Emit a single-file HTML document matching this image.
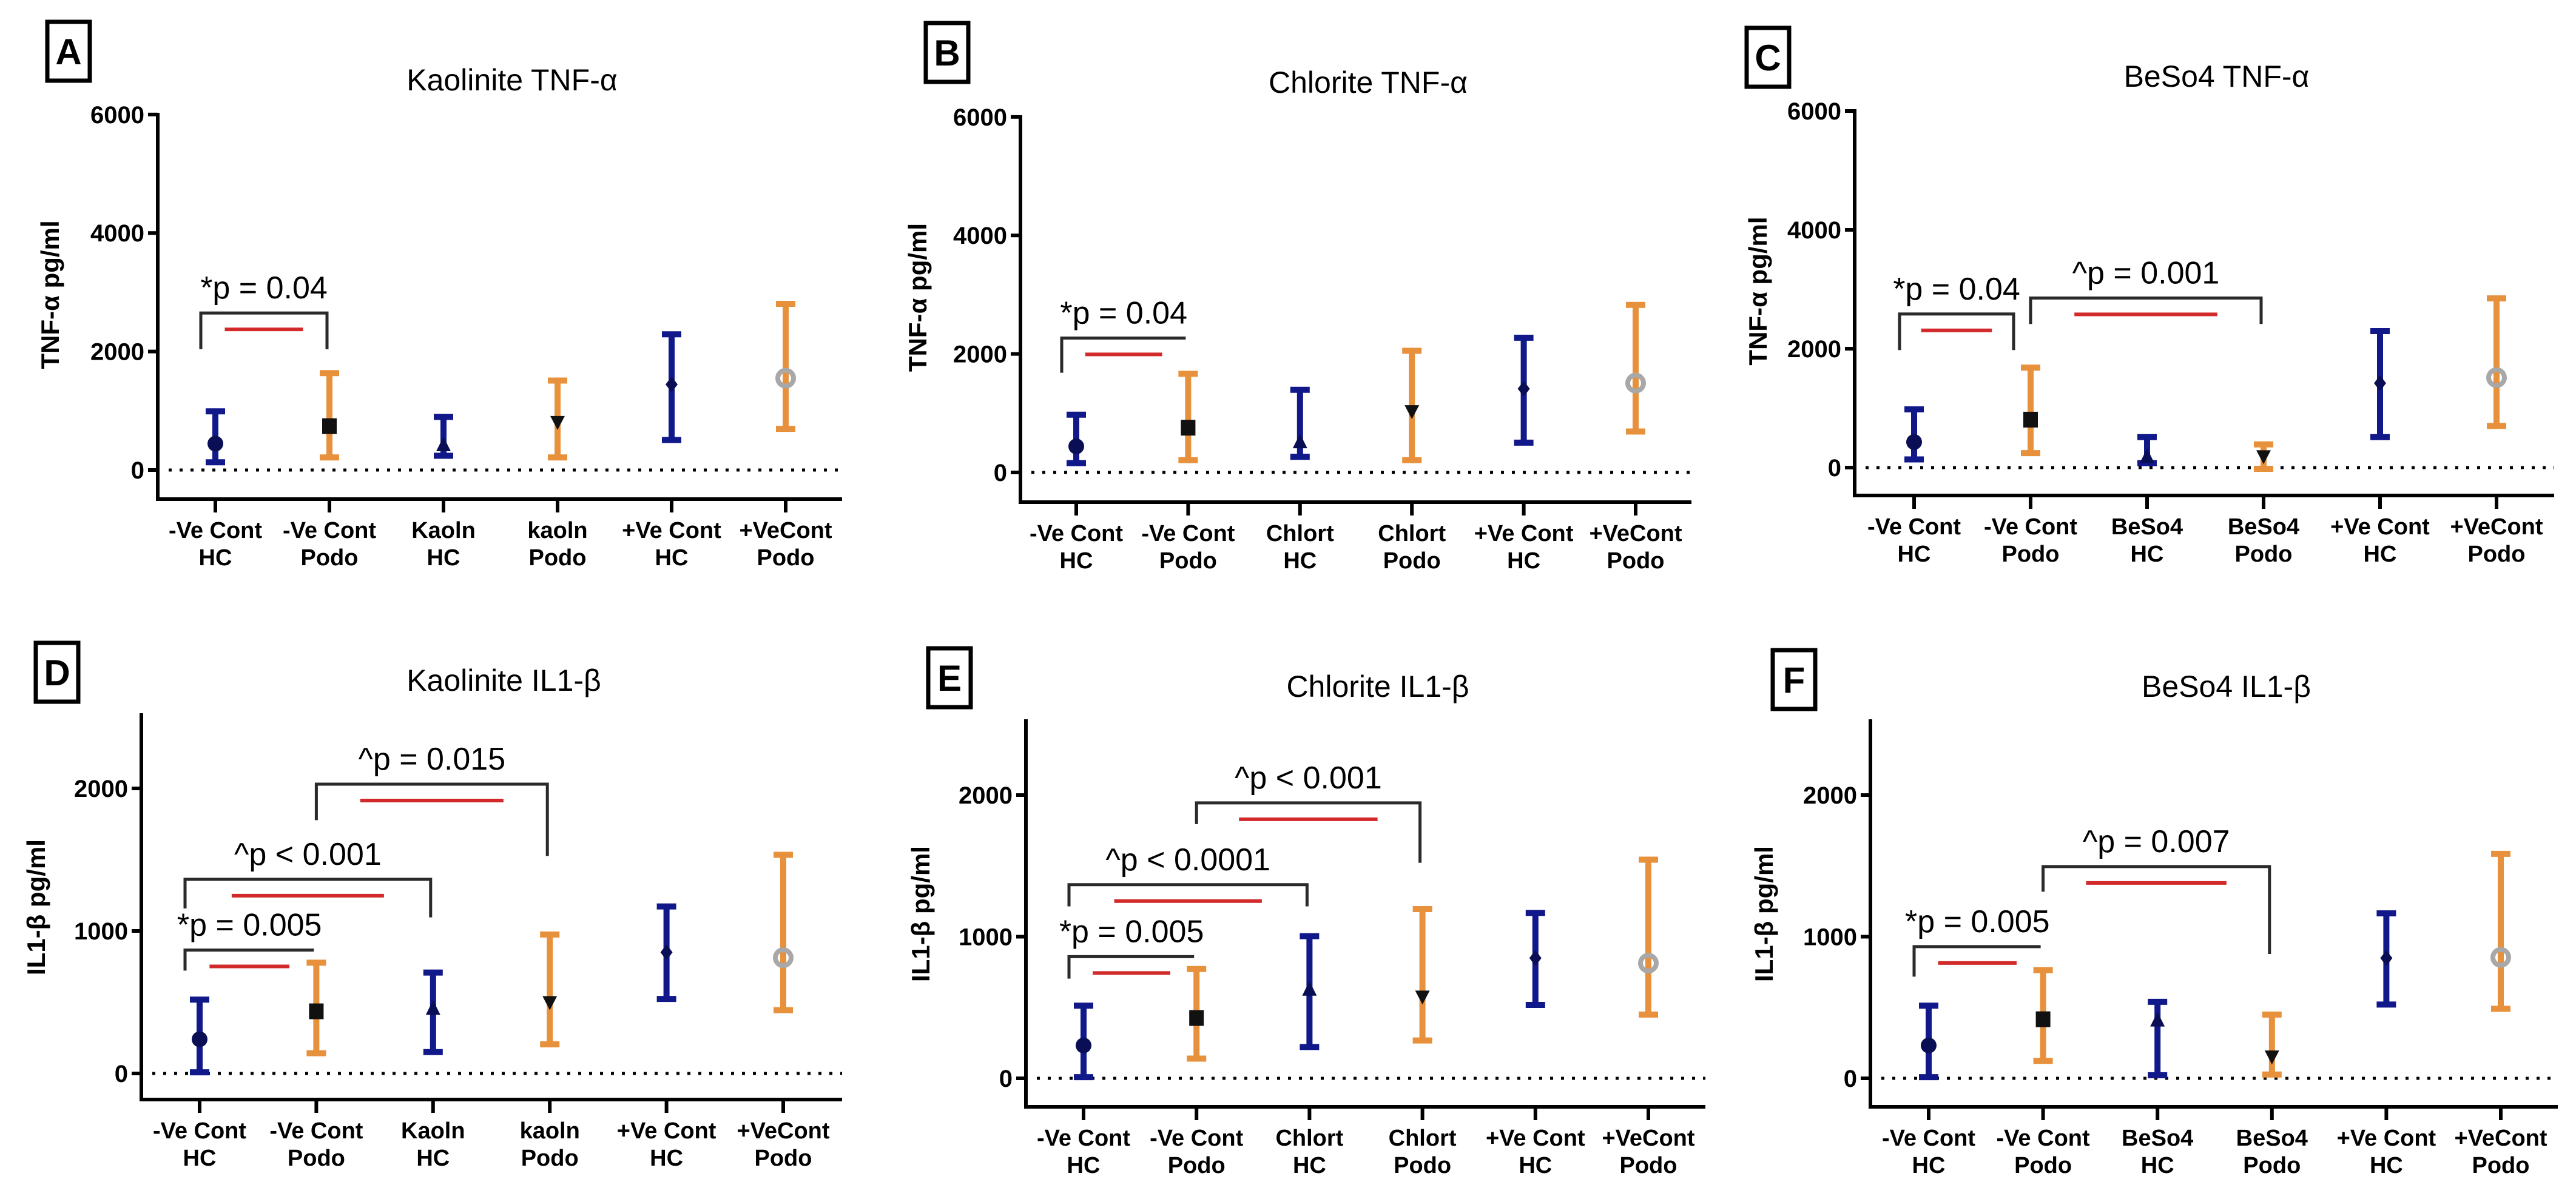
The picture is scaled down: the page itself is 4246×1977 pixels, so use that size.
<!DOCTYPE html>
<html><head><meta charset="utf-8">
<style>
html,body{margin:0;padding:0;background:#fff;}
svg{display:block;}
text{font-family:"Liberation Sans",Arial,sans-serif;}
</style></head>
<body>
<svg id="fig" width="4246" height="1977" viewBox="0 0 4246 1977" xmlns="http://www.w3.org/2000/svg"></svg>
<script>
// ---------- DATA ----------
const catsKaolin = ["-Ve Cont|HC","-Ve Cont|Podo","Kaoln|HC","kaoln|Podo","+Ve Cont|HC","+VeCont|Podo"];
const catsChlor  = ["-Ve Cont|HC","-Ve Cont|Podo","Chlort|HC","Chlort|Podo","+Ve Cont|HC","+VeCont|Podo"];
const catsBeso   = ["-Ve Cont|HC","-Ve Cont|Podo","BeSo4|HC","BeSo4|Podo","+Ve Cont|HC","+VeCont|Podo"];
const ticksTNF = [0,2000,4000,6000];
const ticksIL = [0,1000,2000];

const meanA = [445,740,410,820,1445,1550];
const lowA  = [130,213,240,213,507,695];
const highA = [990,1635,895,1510,2290,2805];

const meanB = [440,755,500,1043,1413,1508];
const lowB  = [157,207,264,207,503,691];
const highB = [975,1665,1395,2054,2274,2827];

const meanC = [430,807,170,200,1420,1514];
const lowC  = [138,244,75,-20,513,701];
const highC = [980,1683,513,390,2296,2847];

const meanD = [240,436,450,504,850,812];
const lowD  = [8,142,150,204,523,444];
const highD = [518,777,708,975,1172,1534];

const meanE = [232,426,622,581,849,813];
const lowE  = [8,139,221,267,518,450];
const highE = [513,772,1004,1195,1168,1544];

const meanF = [232,417,404,158,849,854];
const lowF  = [8,123,22,27,521,491];
const highF = [513,764,540,450,1165,1585];

// brackets: [fromCat, toCat, topValue, leftLegEnd, rightLegEnd, label]
const bracketsA = [[0,1,2650,2040,2040,"*p = 0.04"]];
const bracketsB = [[0,1,2268,1683,2268,"*p = 0.04"]];
const bracketsC = [[0,1,2584,1977,1977,"*p = 0.04"],[1,3,2853,2416,2416,"^p =  0.001"]];
const bracketsD = [[0,1,866,722,866,"*p = 0.005"],[0,2,1362,1158,1095,"^p < 0.001"],[1,3,2030,1777,1526,"^p = 0.015"]];
const bracketsE = [[0,1,859,704,859,"*p = 0.005"],[0,2,1367,1214,1214,"^p <  0.0001"],[1,3,1945,1795,1522,"^p <  0.001"]];
const bracketsF = [[0,1,930,718,930,"*p = 0.005"],[1,3,1495,1318,878,"^p = 0.007"]];

// ---------- RENDER ----------
const NS="http://www.w3.org/2000/svg";
const svg=document.getElementById('fig');
const NAVY="#10188a", ORANGE="#e8913c", GRAY="#a8a8a8", RED="#d22a2a", BR="#2a2a2a";
function mk(tag,attrs,parent){const e=document.createElementNS(NS,tag);for(const k in attrs)e.setAttribute(k,attrs[k]);(parent||svg).appendChild(e);return e;}

const panels=[
 {id:'a',letter:'A',title:'Kaolinite TNF-\u03B1',ytitle:'TNF-\u03B1 pg/ml',cats:catsKaolin,ticks:ticksTNF,mean:meanA,low:lowA,high:highA,br:bracketsA,
  ax:260,zero:775,k:0.0977,top:189,bot:823,end:1388,c0:355,dc:188,box:[78,36],yt:86,rOff:0},
 {id:'b',letter:'B',title:'Chlorite TNF-\u03B1',ytitle:'TNF-\u03B1 pg/ml',cats:catsChlor,ticks:ticksTNF,mean:meanB,low:lowB,high:highB,br:bracketsB,
  ax:1682,zero:779,k:0.0977,top:193,bot:828,end:2788,c0:1774,dc:184.4,box:[1526,38],yt:1516,rOff:0},
 {id:'c',letter:'C',title:'BeSo4 TNF-\u03B1',ytitle:'TNF-\u03B1 pg/ml',cats:catsBeso,ticks:ticksTNF,mean:meanC,low:lowC,high:highC,br:bracketsC,
  ax:3057,zero:771,k:0.098,top:183,bot:817,end:4210,c0:3155,dc:192,box:[2879,46],yt:2901,rOff:-24},
 {id:'d',letter:'D',title:'Kaolinite IL1-\u03B2',ytitle:'IL1-\u03B2 pg/ml',cats:catsKaolin,ticks:ticksIL,mean:meanD,low:lowD,high:highD,br:bracketsD,
  ax:233,zero:1770,k:0.235,top:1179,bot:1813,end:1388,c0:329,dc:192.4,box:[59,1060],yt:63,rOff:0},
 {id:'e',letter:'E',title:'Chlorite IL1-\u03B2',ytitle:'IL1-\u03B2 pg/ml',cats:catsChlor,ticks:ticksIL,mean:meanE,low:lowE,high:highE,br:bracketsE,
  ax:1691,zero:1778,k:0.2335,top:1189,bot:1825,end:2811,c0:1786,dc:186.2,box:[1530,1069],yt:1521,rOff:0},
 {id:'f',letter:'F',title:'BeSo4 IL1-\u03B2',ytitle:'IL1-\u03B2 pg/ml',cats:catsBeso,ticks:ticksIL,mean:meanF,low:lowF,high:highF,br:bracketsF,
  ax:3083,zero:1778,k:0.2335,top:1189,bot:1825,end:4216,c0:3179,dc:188.6,box:[2922,1072],yt:2911,rOff:0}
];

const barColors=[NAVY,ORANGE,NAVY,ORANGE,NAVY,ORANGE];

panels.forEach(p=>{
  const g=mk('g',{});
  
  
  const y=v=>p.zero-v*p.k;
  const x=i=>p.c0+i*p.dc;

  const bx=mk('rect',{x:p.box[0],y:p.box[1],width:70,height:97,fill:'#fff',stroke:'#000','stroke-width':7},g);
  
  
  const bl=mk('text',{x:p.box[0]+35,y:p.box[1]+70,'text-anchor':'middle','font-size':60,'font-weight':'bold'},g);
  bl.textContent=p.letter;
  
  

  const tt=mk('text',{x:(p.ax+p.end)/2+20,y:p.top-40,'text-anchor':'middle','font-size':50},g);
  tt.textContent=p.title;
  
  

  const midY=(p.top+p.bot)/2+(p.id<'d'?-20:0);
  const yt=mk('text',{x:p.yt,y:midY,'text-anchor':'middle','font-size':42,'font-weight':'bold',transform:`rotate(-90 ${p.yt} ${midY})`,'dominant-baseline':'middle'},g);
  yt.textContent=p.ytitle;
  
  

  const ya=mk('line',{x1:p.ax,y1:p.top-3,x2:p.ax,y2:p.bot+3,stroke:'#000','stroke-width':6},g);
  
  
  const xa=mk('line',{x1:p.ax-3,y1:p.bot,x2:p.end,y2:p.bot,stroke:'#000','stroke-width':6},g);
  
  

  p.ticks.forEach(t=>{
    const tl=mk('line',{x1:p.ax-16,y1:y(t),x2:p.ax,y2:y(t),stroke:'#000','stroke-width':6},g);
    
    
    const tx=mk('text',{x:p.ax-22,y:y(t)+14,'text-anchor':'end','font-size':40,'font-weight':'bold'},g);
    tx.textContent=t;
    
    
  });

  const zl=mk('line',{x1:p.ax+18,y1:y(0),x2:p.end,y2:y(0),stroke:'#000','stroke-width':5,'stroke-dasharray':'5 13'},g);
  
  

  p.cats.forEach((c,i)=>{
    const tk=mk('line',{x1:x(i),y1:p.bot,x2:x(i),y2:p.bot+22,stroke:'#000','stroke-width':6},g);
    
    
    const parts=c.split('|');
    const t=mk('text',{x:x(i),y:p.bot+64,'text-anchor':'middle','font-size':38,'font-weight':'bold'},g);
    
    
    parts.forEach((s,j)=>{const ts=mk('tspan',{x:x(i),dy:j?45:0},t);ts.textContent=s;});
  });

  p.mean.forEach((m,i)=>{
    const cx=x(i), col=barColors[i];
    const eg=mk('g',{},g);
    
    
    mk('line',{x1:cx,y1:y(p.low[i]),x2:cx,y2:y(p.high[i]),stroke:col,'stroke-width':10},eg);
    mk('line',{x1:cx-16,y1:y(p.low[i]),x2:cx+16,y2:y(p.low[i]),stroke:col,'stroke-width':10},eg);
    mk('line',{x1:cx-16,y1:y(p.high[i]),x2:cx+16,y2:y(p.high[i]),stroke:col,'stroke-width':10},eg);
    const my=y(m);
    let mkEl;
    if(i===0) mkEl=mk('circle',{cx:cx,cy:my,r:13,fill:'#0a0f55'},eg);
    else if(i===1) mkEl=mk('rect',{x:cx-12,y:my-13,width:24,height:26,fill:'#111'},eg);
    else if(i===2) mkEl=mk('polygon',{points:`${cx},${my-15} ${cx-12},${my+9} ${cx+12},${my+9}`,fill:'#0a0f55'},eg);
    else if(i===3) mkEl=mk('polygon',{points:`${cx},${my+14} ${cx-12},${my-9} ${cx+12},${my-9}`,fill:'#111'},eg);
    else if(i===4) mkEl=mk('polygon',{points:`${cx},${my-13} ${cx-10},${my} ${cx},${my+13} ${cx+10},${my}`,fill:'#0a0f55'},eg);
    else mkEl=mk('circle',{cx:cx,cy:my,r:13,fill:'none',stroke:GRAY,'stroke-width':8},eg);
    
    
  });

  p.br.forEach((b,bi)=>{
    const x1=b[0]===0?x(0)-24:x(b[0]);
    const x2=x(b[1])-4+(b[0]===0&&b[1]===1?p.rOff:0);
    const ty=y(b[2]);
    const bg=mk('g',{},g);
    
    
    mk('polyline',{points:`${x1},${y(b[3])} ${x1},${ty} ${x2},${ty} ${x2},${y(b[4])}`,fill:'none',stroke:BR,'stroke-width':5},bg);
    const w=(x2-x1)*0.62, cm=(x1+x2)/2;
    mk('line',{x1:cm-w/2,y1:ty+27,x2:cm+w/2,y2:ty+27,stroke:RED,'stroke-width':6},bg);
    const pt=mk('text',{x:cm,y:ty-24,'text-anchor':'middle','font-size':52},bg);
    pt.textContent=b[5];
    
    
  });
});
</script>
</body></html>
